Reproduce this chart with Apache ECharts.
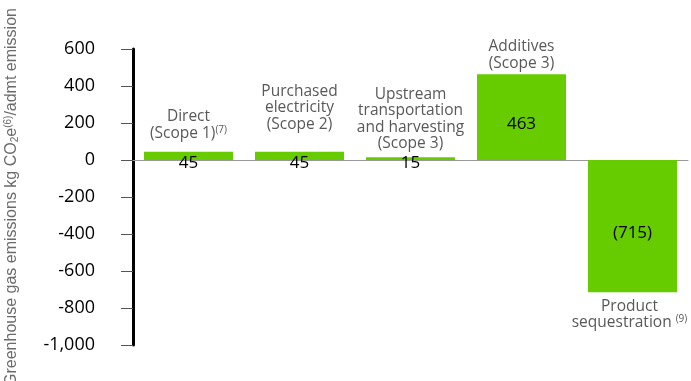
<!DOCTYPE html>
<html><head><meta charset="utf-8">
<script src="https://cdn.jsdelivr.net/npm/echarts@6/dist/echarts.min.js"></script>
<style>html,body{margin:0;padding:0;background:#fff}#c{width:691px;height:381px}</style>
</head><body><div id="c"></div>
<script>
const categories = [
  "Direct\n(Scope 1){sup|(7)}",
  "Purchased\nelectricity\n(Scope 2)",
  "Upstream\ntransportation\nand harvesting\n(Scope 3)",
  "Additives\n(Scope 3)",
  "Product\nsequestration {sup|(9)}"
];
const values = [45, 45, 15, 463, -715];
const yTicks = { min: -1000, max: 600, interval: 200 };

const nameDist = [10, 19, 5, 3, 6];
const nameShift = [0, 0, 0, 0, -3];
const FONT = '"Liberation Sans", Arial, sans-serif';
const CATFONT = '"Open Sans", "Liberation Sans", sans-serif';

const chart = echarts.init(document.getElementById('c'), null, {renderer: 'canvas'});
chart.setOption({
  animation: false,
  grid: { left: 133, right: 3, top: 49, bottom: 36, containLabel: false, outerBoundsMode: 'none' },
  xAxis: {
    type: 'category',
    data: categories,
    axisLine: { onZero: true, lineStyle: { color: '#9a9a9a', width: 1 } },
    axisTick: { show: false },
    axisLabel: { show: false }
  },
  yAxis: {
    type: 'value',
    min: yTicks.min, max: yTicks.max, interval: yTicks.interval,
    name: 'Greenhouse gas emissions kg CO{sub|2}e{sup|(6)}/admt emission',
    nameLocation: 'middle',
    nameGap: 112,
    nameRotate: 90,
    nameTextStyle: {
      color: '#6b6b6b', fontSize: 16, fontFamily: FONT,
      rich: {
        sub: { fontSize: 10, color: '#6b6b6b', fontFamily: FONT, padding: [7, 0, 0, 0] },
        sup: { fontSize: 10, color: '#6b6b6b', fontFamily: FONT, padding: [0, 0, 8, 0] }
      }
    },
    splitLine: { show: false },
    axisLine: { show: true, lineStyle: { color: '#000', width: 3 } },
    axisTick: { show: true, length: 12, lineStyle: { color: '#555', width: 1 } },
    axisLabel: {
      color: '#000', fontSize: 18, fontFamily: CATFONT, margin: 38,
      formatter: v => v.toLocaleString('en-US')
    }
  },
  series: [
    {
      type: 'bar',
      barWidth: 89,
      data: values.map((v, i) => ({
        value: v,
        label: {
          position: v >= 0 ? 'top' : 'bottom',
          distance: nameDist[i],
          offset: [nameShift[i], 0]
        }
      })),
      itemStyle: { color: '#66cc00' },
      label: {
        show: true,
        formatter: p => categories[p.dataIndex],
        color: '#595959', fontSize: 15.5, lineHeight: 16.5, fontFamily: CATFONT, align: 'center',
        rich: {
          sup: { fontSize: 10, color: '#595959', fontFamily: CATFONT, padding: [0, 0, 7, 0] }
        }
      }
    },
    {
      type: 'bar',
      barWidth: 89,
      barGap: '-100%',
      itemStyle: { color: 'transparent' },
      data: values.map(v => {
        const small = Math.abs(v) < 100;
        return {
          value: v,
          label: small
            ? { position: 'bottom', distance: -5 }
            : { position: 'inside', offset: [0, 7] }
        };
      }),
      label: {
        show: true,
        color: '#000', fontSize: 17, fontFamily: CATFONT,
        formatter: p => p.value < 0 ? '(' + Math.abs(p.value) + ')' : String(p.value)
      }
    }
  ]
});
</script></body></html>
